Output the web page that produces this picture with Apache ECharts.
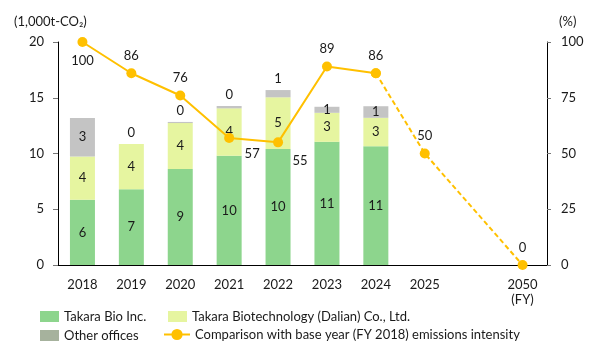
<!DOCTYPE html>
<html>
<head>
<meta charset="utf-8">
<script src="https://cdn.jsdelivr.net/npm/echarts@6/dist/echarts.min.js"></script>
<style>html,body{margin:0;padding:0;background:#fff}#c{width:600px;height:357px}</style>
</head>
<body>
<div id="c"></div>
<script>
var categories = ['2018','2019','2020','2021','2022','2023','2024','2025','','2050\n(FY)'];
var takaraBio = [5.85, 6.8, 8.6, 9.8, 10.4, 11.05, 10.65, null, null, null];
var dalian = [3.88, 4.06, 4.13, 4.25, 4.64, 2.6, 2.55, null, null, null];
var otherOffices = [3.45, 0, 0.1, 0.21, 0.65, 0.54, 1.04, null, null, null];
var intensityActual = [100, 86, 76, 57, 55, 89, 86, null, null, null];
var intensityTarget = [null, null, null, null, null, null, 86, 50, null, 0];
var leftTicks = [0, 5, 10, 15, 20];
var rightTicks = [0, 25, 50, 75, 100];

var FONT = 'Lato, "Noto Sans", "DejaVu Sans", sans-serif';
var TXT = '#1a1a1a';
var GREEN = '#8dd58d', YELLOW = '#e6f5a0', GRAY = '#c4c4c4', LEGEND_GRAY = '#a6b29d', ORANGE = '#ffc000';
var NAMES = ['Takara Bio Inc.', 'Takara Biotechnology (Dalian) Co., Ltd.', 'Other offices', 'Comparison with base year (FY 2018) emissions intensity'];

function roundFmt(p){ return p.value == null ? '' : String(Math.round(p.value)); }

var grayOutside = {1:true, 2:true, 3:true, 4:true};
var grayData = otherOffices.map(function(v, i){
  return { value: v, label: { position: grayOutside[i] ? 'top' : 'inside' } };
});

var actualLabelCfg = {
  0: { position: 'bottom', distance: 7 },
  3: { position: 'bottom', offset: [23, -2] },
  4: { position: 'bottom', offset: [22, 1] }
};
var actualData = intensityActual.map(function(v, i){
  var o = { value: v };
  if (actualLabelCfg[i]) o.label = actualLabelCfg[i];
  return o;
});
var targetData = intensityTarget.map(function(v, i){
  var o = { value: v };
  if (i === 6) o.label = { show: false };
  return o;
});

var chart = echarts.init(document.getElementById('c'), null, {renderer: 'canvas'});
var legendBase = { orient: 'horizontal', itemGap: 0, textStyle: { fontFamily: FONT, fontSize: 13, color: TXT }, selectedMode: false };
chart.setOption({
  animation: false,
  textStyle: { fontFamily: FONT },
  grid: { left: 58, right: 53, top: 42, bottom: 92 },
  legend: [
    Object.assign({}, legendBase, { left: 35, top: 305, itemWidth: 19, itemHeight: 11, data: [{ name: NAMES[0], icon: 'rect' }] }),
    Object.assign({}, legendBase, { left: 163, top: 305, itemWidth: 19, itemHeight: 11, data: [{ name: NAMES[1], icon: 'rect' }] }),
    Object.assign({}, legendBase, { left: 35, top: 324, itemWidth: 19, itemHeight: 11, data: [{ name: NAMES[2], icon: 'rect', itemStyle: { color: LEGEND_GRAY } }] }),
    Object.assign({}, legendBase, { left: 158, top: 323, itemWidth: 26, itemHeight: 14, data: [{ name: NAMES[3] }] })
  ],
  graphic: [
    { type: 'text', left: 14, top: 15, style: { text: '(1,000t-CO\u2082)', font: '13px ' + FONT, fill: TXT } },
    { type: 'text', left: 559, top: 15, style: { text: '(%)', font: '13px ' + FONT, fill: TXT } }
  ],
  xAxis: {
    type: 'category', data: categories,
    axisLine: { lineStyle: { color: '#000', width: 1 } },
    axisTick: { show: false },
    axisLabel: { color: TXT, fontSize: 13, fontFamily: FONT, margin: 12, lineHeight: 15, interval: 0 }
  },
  yAxis: [
    { type: 'value', min: 0, max: 20, interval: 5, splitLine: { show: false },
      axisLine: { show: true, lineStyle: { color: '#000' } },
      axisTick: { show: true, length: 5, lineStyle: { color: '#777' } },
      axisLabel: { color: TXT, fontSize: 13, fontFamily: FONT, margin: 14,
        customValues: leftTicks } },
    { type: 'value', min: 0, max: 100, interval: 25, splitLine: { show: false },
      axisLine: { show: true, lineStyle: { color: '#000' } },
      axisTick: { show: true, length: 4, lineStyle: { color: '#777' } },
      axisLabel: { color: TXT, fontSize: 13, fontFamily: FONT, margin: 14,
        customValues: rightTicks } }
  ],
  series: [
    { name: NAMES[0], type: 'bar', stack: 'total', data: takaraBio, barWidth: 25,
      itemStyle: { color: GREEN },
      label: { show: true, position: 'inside', color: TXT, fontSize: 13, fontFamily: FONT, formatter: roundFmt } },
    { name: NAMES[1], type: 'bar', stack: 'total', data: dalian, barWidth: 25,
      itemStyle: { color: YELLOW },
      label: { show: true, position: 'inside', color: TXT, fontSize: 13, fontFamily: FONT, formatter: roundFmt } },
    { name: NAMES[2], type: 'bar', stack: 'total', data: grayData, barWidth: 25,
      itemStyle: { color: GRAY },
      label: { show: true, position: 'inside', color: TXT, fontSize: 13, fontFamily: FONT, distance: 5, formatter: roundFmt } },
    { name: NAMES[3], type: 'line', yAxisIndex: 1, data: actualData, z: 5,
      symbol: 'circle', symbolSize: 10, itemStyle: { color: ORANGE }, lineStyle: { color: ORANGE, width: 2 },
      label: { show: true, position: 'top', distance: 6, color: TXT, fontSize: 13, fontFamily: FONT, formatter: roundFmt } },
    { name: 'target', type: 'line', yAxisIndex: 1, data: targetData, connectNulls: true, z: 4,
      symbol: 'circle', symbolSize: 10, itemStyle: { color: ORANGE }, lineStyle: { color: ORANGE, width: 2, type: [5, 3] },
      label: { show: true, position: 'top', distance: 6, color: TXT, fontSize: 13, fontFamily: FONT, formatter: roundFmt } }
  ]
});
</script>
</body>
</html>
